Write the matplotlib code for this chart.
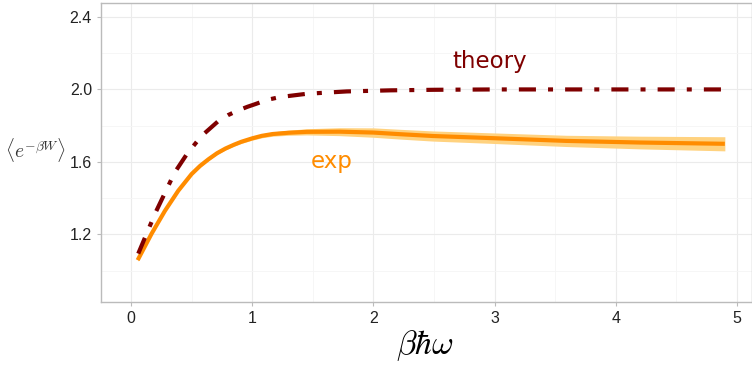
import numpy as np
import matplotlib.pyplot as plt

plt.rcParams['mathtext.fontset'] = 'cm'

# donnees
x_theory = [0.06, 0.2, 0.36, 0.46, 0.58, 0.72, 0.8, 0.88, 0.96, 1.03, 1.12, 1.23, 1.45, 1.78, 2.14, 2.5, 3.0, 4.0, 4.88]
y_theory = [1.094, 1.317, 1.541, 1.642, 1.742, 1.825, 1.858, 1.883, 1.904, 1.92, 1.942, 1.958, 1.976, 1.989, 1.995, 1.998, 2.0, 2.0, 2.0]

x_exp = [0.055, 0.17, 0.28, 0.39, 0.5, 0.57, 0.64, 0.71, 0.78, 0.85, 0.91, 1.0, 1.08, 1.17, 1.3, 1.45, 1.72, 2.0, 2.22, 2.49, 2.95, 3.59, 4.2, 4.9]
y_exp = [1.058, 1.204, 1.33, 1.441, 1.533, 1.578, 1.615, 1.648, 1.674, 1.695, 1.711, 1.73, 1.744, 1.754, 1.761, 1.766, 1.767, 1.762, 1.753, 1.743, 1.732, 1.716, 1.707, 1.70]
err_exp = [0.006, 0.006, 0.006, 0.006, 0.006, 0.006, 0.007, 0.007, 0.008, 0.008, 0.009, 0.01, 0.011, 0.012, 0.014, 0.017, 0.022, 0.026, 0.027, 0.028, 0.029, 0.031, 0.035, 0.039]

x_ticks = [0, 1, 2, 3, 4, 5]
y_ticks = [1.2, 1.6, 2.0, 2.4]

fig = plt.figure(figsize=(7.52, 3.65), dpi=100)
ax = fig.add_axes([0.1343, 0.1726, 0.8657, 0.8192])

y_exp = np.array(y_exp)
err_exp = np.array(err_exp)
ax.fill_between(x_exp, y_exp - err_exp, y_exp + err_exp, color='#ffd27f', lw=0, zorder=2)
ax.plot(x_exp, y_exp, color='#ff8c00', lw=3, solid_capstyle='butt', solid_joinstyle='round', zorder=3)
ax.plot(x_theory, y_theory, color='#7f0000', lw=3, dashes=(4.1, 2.9, 1.2, 2.9), zorder=4)

ax.text(2.96, 2.155, 'theory', color='#7f0000', fontsize=16.5, ha='center', va='center')
ax.text(1.66, 1.6, 'exp', color='#ff8c00', fontsize=16.5, ha='center', va='center')

ax.set_xlim(-0.2475, 5.124)
ax.set_ylim(0.827, 2.477)
ax.set_xticks(x_ticks)
ax.set_yticks(y_ticks)
ax.set_xticks([0.5, 1.5, 2.5, 3.5, 4.5], minor=True)
ax.set_yticks([1.0, 1.4, 1.8, 2.2], minor=True)
ax.grid(which='major', color='#ebebeb', lw=0.8)
ax.grid(which='minor', color='#f5f5f5', lw=0.6)
ax.set_axisbelow(True)
ax.tick_params(which='minor', length=0)
ax.tick_params(which='major', length=3, color='#bbbbbb', labelsize=11.5, labelcolor='#222222')
for lab in ax.get_xticklabels() + ax.get_yticklabels():
    lab.set_family('Liberation Sans')
for s in ax.spines.values():
    s.set_color('#bbbbbb')
    s.set_linewidth(1)

# labels des axes
fig.text(425 / 752, 1 - 346 / 365, r'$\beta\hbar\omega$', fontsize=24, ha='center', va='center')
fig.text(36 / 752, 1 - 150 / 365, r'$\langle e^{-\beta W}\rangle$', fontsize=14,
         ha='center', va='center', color='#333333')

plt.savefig('out.png', dpi=100)
